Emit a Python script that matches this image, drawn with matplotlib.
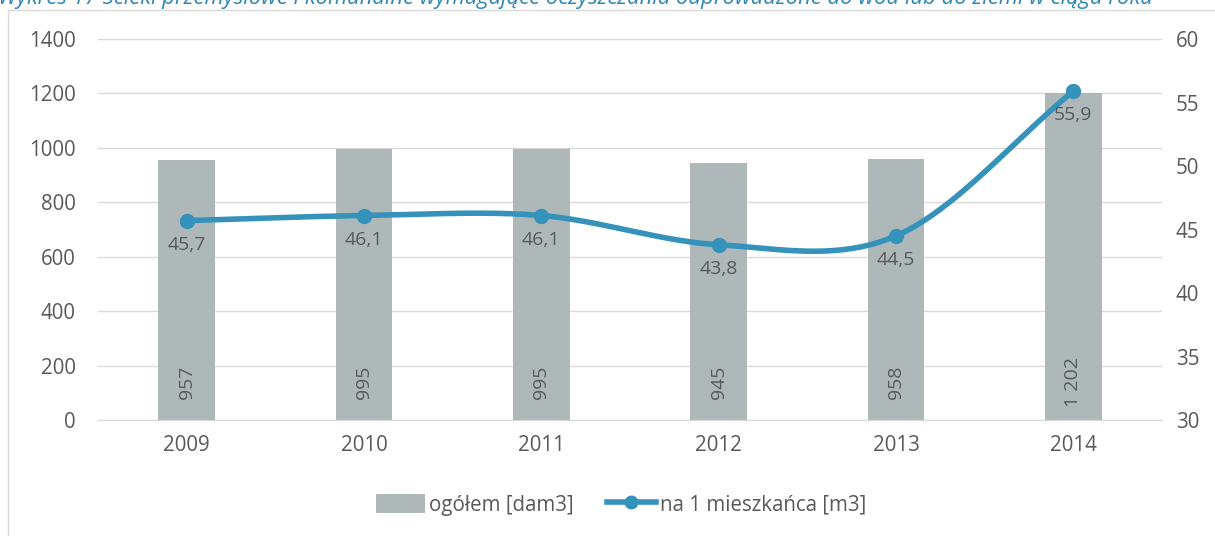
import numpy as np
import matplotlib
matplotlib.use("Agg")
import matplotlib.pyplot as plt
from matplotlib.lines import Line2D
from matplotlib.patches import Patch, Rectangle

years = ["2009", "2010", "2011", "2012", "2013", "2014"]
total = [957, 995, 995, 945, 958, 1202]
total_labels = ["957", "995", "995", "945", "958", "1 202"]
per_capita = [45.7, 46.1, 46.1, 43.8, 44.5, 55.9]
per_capita_labels = ["45,7", "46,1", "46,1", "43,8", "44,5", "55,9"]
title = "Wykres 17 Ścieki przemysłowe i komunalne wymagające oczyszczania odprowadzone do wód lub do ziemi w ciągu roku"

plt.rcParams['font.family'] = ['Open Sans', 'DejaVu Sans']
TXT = "#595959"
BAR = "#aeb8b8"
LINE = "#3592bb"
GRID = "#d9d9d9"
FS = 14.8

fig = plt.figure(figsize=(12.15, 5.36), dpi=100)
W, H = 1215, 536

# chart frame
fig.patches.append(Rectangle((8 / W, -0.01), 1.2, (536 - 10) / H + 0.01, transform=fig.transFigure,
                             fill=False, edgecolor="#d9d9d9", linewidth=1.0))
fig.text(-2 / W, 1 - 4 / H, title, color="#2e86b5", fontsize=15.8, style="italic",
         ha="left", va="baseline")

ax = fig.add_axes([98 / W, 1 - 420 / H, (1162 - 98) / W, (420 - 39) / H])
x = np.arange(len(years))
ax.bar(x, total, width=0.32, color=BAR, zorder=2)
ax.set_xlim(-0.5, len(years) - 0.5)
ax.set_ylim(0, 1400)
ax.set_yticks(range(0, 1401, 200))
ax.set_xticks(x)
ax.set_xticklabels(years)
ax.grid(axis="y", color=GRID, linewidth=1, zorder=0)
ax.set_axisbelow(True)
for s in ["top", "right", "left"]:
    ax.spines[s].set_visible(False)
ax.spines["bottom"].set_color(GRID)
ax.tick_params(axis="both", length=0, labelsize=FS, colors=TXT)
ax.tick_params(axis="y", pad=16)
ax.tick_params(axis="x", pad=11)
for xi, lab in zip(x, total_labels):
    ax.text(xi, 140, lab, rotation=90, ha="center", va="center", fontsize=14, color=TXT, zorder=4)

ax2 = ax.twinx()
ax2.set_ylim(30, 60)
ax2.set_yticks(range(30, 61, 5))
for s in ["top", "right", "left", "bottom"]:
    ax2.spines[s].set_visible(False)
ax2.tick_params(axis="y", length=0, labelsize=FS, colors=TXT, pad=10)

# Catmull-Rom smoothing for the drawn line
def smooth(xs, ys, n=40):
    xs = np.asarray(xs, float); ys = np.asarray(ys, float)
    px = np.concatenate([[2 * xs[0] - xs[1]], xs, [2 * xs[-1] - xs[-2]]])
    py = np.concatenate([[2 * ys[0] - ys[1]], ys, [2 * ys[-1] - ys[-2]]])
    ox, oy = [], []
    for i in range(1, len(px) - 2):
        t = np.linspace(0, 1, n, endpoint=False)
        for arr, out in ((px, ox), (py, oy)):
            p0, p1, p2, p3 = arr[i - 1], arr[i], arr[i + 1], arr[i + 2]
            out.extend(0.5 * ((2 * p1) + (-p0 + p2) * t + (2 * p0 - 5 * p1 + 4 * p2 - p3) * t ** 2
                              + (-p0 + 3 * p1 - 3 * p2 + p3) * t ** 3))
    ox.append(xs[-1]); oy.append(ys[-1])
    return np.array(ox), np.array(oy)

sx, sy = smooth(x, per_capita)
ax2.plot(sx, sy, color=LINE, linewidth=4, zorder=3, solid_capstyle="round")
ax2.plot(x, per_capita, "o", color=LINE, markersize=10, zorder=4)
for xi, v, lab in zip(x, per_capita, per_capita_labels):
    ax2.text(xi, v - 1.2, lab, ha="center", va="top", fontsize=14, color=TXT, zorder=5)

handles = [Patch(facecolor=BAR, edgecolor="none"),
           Line2D([0], [0], color=LINE, linewidth=4, marker="o", markersize=9)]
fig.legend(handles, ["ogółem [dam3]", "na 1 mieszkańca [m3]"], loc="center",
           bbox_to_anchor=(621 / W, 1 - 505 / H), ncol=2, frameon=False, fontsize=FS,
           labelcolor=TXT, handlelength=2.4, handletextpad=0.2, columnspacing=1.6,
           handleheight=1.0)

fig.savefig("out.png", dpi=100, facecolor="white")
